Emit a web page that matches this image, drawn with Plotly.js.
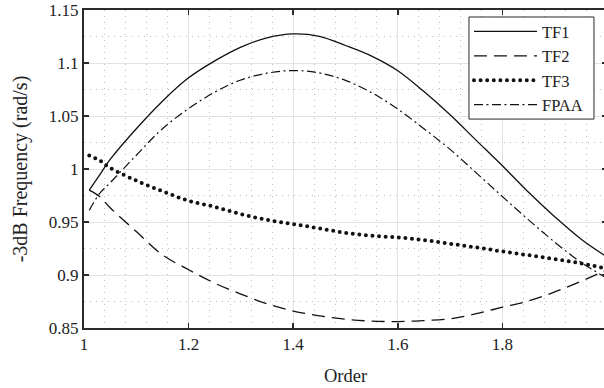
<!DOCTYPE html>
<html><head><meta charset="utf-8">
<script src="https://cdn.plot.ly/plotly-3.0.1.min.js"></script>
<style>html,body{margin:0;padding:0;overflow:hidden;background:#fff;} #chart{width:607px;height:388px;}</style>
</head><body><div id="chart"></div>
<script>
const order = [1.01, 1.03, 1.05, 1.1, 1.15, 1.2, 1.25, 1.3, 1.35, 1.4, 1.45, 1.5, 1.55, 1.6, 1.65, 1.7, 1.75, 1.8, 1.85, 1.9, 1.95, 2.0];
const tf1  = [0.980, 0.9945, 1.009, 1.038, 1.064, 1.086, 1.102, 1.115, 1.1238, 1.1275, 1.1252, 1.1165, 1.1065, 1.0927, 1.073, 1.0511, 1.027, 1.003, 0.978, 0.955, 0.934, 0.917];
const tf2  = [0.980, 0.974, 0.9635, 0.941, 0.919, 0.905, 0.8923, 0.882, 0.8728, 0.866, 0.8615, 0.8582, 0.8565, 0.8561, 0.857, 0.8587, 0.8635, 0.8696, 0.8755, 0.884, 0.894, 0.905];
const tf3  = [1.0128, 1.008, 1.001, 0.989, 0.979, 0.970, 0.9643, 0.9575, 0.952, 0.948, 0.944, 0.9398, 0.937, 0.9355, 0.933, 0.9295, 0.926, 0.9222, 0.9187, 0.915, 0.911, 0.906];
const fpaa = [0.961, 0.977, 0.987, 1.013, 1.038, 1.057, 1.0725, 1.084, 1.0904, 1.0929, 1.0906, 1.0836, 1.072, 1.0565, 1.038, 1.0185, 0.9964, 0.974, 0.952, 0.931, 0.912, 0.897];
const seriesNames = ['TF1', 'TF2', 'TF3', 'FPAA'];
const xTickVals = [1, 1.2, 1.4, 1.6, 1.8, 2];
const xTickText = ['1', '1.2', '1.4', '1.6', '1.8', '2'];
const yTickVals = [0.85, 0.9, 0.95, 1, 1.05, 1.1, 1.15];
const yTickText = ['0.85', '0.9', '0.95', '1', '1.05', '1.1', '1.15'];

const font = 'Liberation Serif';
const ink = '#111';
const txt = '#222';
const frame = '#2b2b2b';
const traces = [
  {x: order, y: tf1,  name: seriesNames[0], line: {color: ink, width: 1.3, dash: 'solid', shape: 'spline'}},
  {x: order, y: tf2,  name: seriesNames[1], line: {color: ink, width: 1.3, dash: '13px,7px', shape: 'spline'}},
  {x: order, y: tf3,  name: seriesNames[2], line: {color: ink, width: 4, dash: '0px,6.6px', shape: 'spline'}},
  {x: order, y: fpaa, name: seriesNames[3], line: {color: ink, width: 1.2, dash: '9px,3.5px,2px,3.5px', shape: 'spline'}}
].map(t => Object.assign({type: 'scatter', mode: 'lines', hoverinfo: 'skip'}, t));

const axisCommon = {
  showline: true, linecolor: frame, linewidth: 2, mirror: 'ticks',
  ticks: 'inside', ticklen: 5, tickwidth: 1.5, tickcolor: frame,
  showgrid: true, gridcolor: '#e3e3e3', gridwidth: 1, zeroline: false,
  tickfont: {family: font, size: 17, color: txt},
  tickmode: 'array', automargin: false
};
const layout = {
  width: 607, height: 388,
  margin: {l: 84, r: 0, t: 10, b: 60},
  paper_bgcolor: '#fff', plot_bgcolor: '#fff',
  font: {family: font, color: txt},
  showlegend: true,
  legend: {x: 0.7361, y: 0.987, xanchor: 'left', yanchor: 'top', bgcolor: 'rgba(0,0,0,0)',
           borderwidth: 0, font: {family: font, size: 16.5, color: txt},
           tracegroupgap: 0, itemwidth: 63},
  shapes: [{type: 'rect', xref: 'paper', yref: 'paper', x0: 0.7361, x1: 0.9751, y0: 0.657, y1: 0.978,
            line: {color: frame, width: 1}, fillcolor: '#fff', layer: 'above'}],
  xaxis: Object.assign({}, axisCommon, {
    range: [1, 2], tickvals: xTickVals, ticktext: xTickText,
    minor: {tick0: 1, dtick: 0.04, showgrid: true, gridcolor: '#bdbdbd', griddash: '1px,5px', gridwidth: 1, ticks: ''},
    title: {text: 'Order', font: {family: font, size: 18.5, color: txt}, standoff: 16}
  }),
  yaxis: Object.assign({}, axisCommon, {
    range: [0.85, 1.15], tickvals: yTickVals, ticktext: yTickText,
    minor: {tick0: 0.85, dtick: 0.025, showgrid: true, gridcolor: '#bdbdbd', griddash: '1px,5px', gridwidth: 1, ticks: ''},
    title: {text: '-3dB Frequency (rad/s)', font: {family: font, size: 20, color: txt}, standoff: 16}
  })
};
function roundDots(gd) {
  const tr = gd.querySelectorAll('.scatterlayer .trace')[2];
  if (tr) tr.querySelectorAll('path.js-line').forEach(p => p.style.strokeLinecap = 'round');
  const lg = gd.querySelectorAll('.legend .traces')[2];
  if (lg) lg.querySelectorAll('path').forEach(p => p.style.strokeLinecap = 'round');
}
Plotly.newPlot('chart', traces, layout, {staticPlot: true}).then(gd => {
  roundDots(gd);
  setTimeout(() => roundDots(gd), 50);
});
</script></body></html>
